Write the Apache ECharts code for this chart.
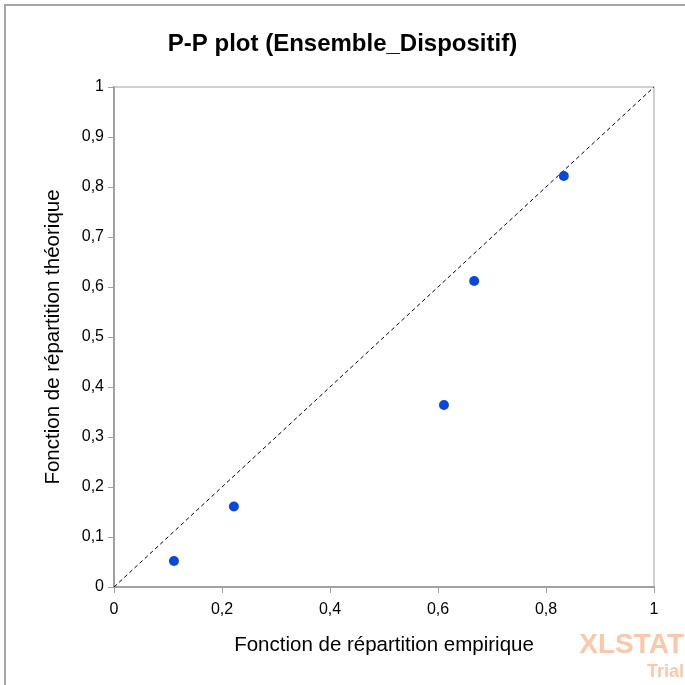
<!DOCTYPE html>
<html><head><meta charset="utf-8">
<script src="https://cdn.jsdelivr.net/npm/echarts@6/dist/echarts.min.js"></script>
<style>html,body{margin:0;padding:0;background:#fff}#c{width:685px;height:685px}</style>
</head><body><div id="c"></div>
<script>
const titleText = 'P-P plot (Ensemble_Dispositif)';
const xName = 'Fonction de répartition empirique';
const yName = 'Fonction de répartition théorique';
const empirical = [0.111, 0.222, 0.611, 0.667, 0.833];
const theoretical = [0.052, 0.161, 0.364, 0.612, 0.822];
const diagonal = [[0, 0], [1, 1]];

const fmt = v => String(Math.round(v * 10) / 10).replace('.', ',');
const chart = echarts.init(document.getElementById('c'), null, {renderer: 'canvas'});
chart.setOption({
  animation: false,
  backgroundColor: '#fff',
  title: {text: titleText, left: 'center', top: 27,
    textStyle: {fontFamily: 'Liberation Sans, Arial', fontSize: 24, fontWeight: 'bold', color: '#000'}},
  graphic: [
    {type: 'rect', shape: {x: 5, y: 5, width: 690, height: 690}, style: {fill: 'none', stroke: '#a6a6a6', lineWidth: 2}, z: -1},
    {type: 'rect', shape: {x: 114, y: 87, width: 540, height: 500}, style: {fill: 'none', stroke: '#d0d0d0', lineWidth: 2}, z: 0},
    {type: 'text', right: 1, top: 631, style: {text: 'XLSTAT', fill: '#fbc7a6', font: 'bold 28px Liberation Sans, Arial'}},
    {type: 'text', right: 1, top: 663, style: {text: 'Trial', fill: '#fbc7a6', font: 'bold 18px Liberation Sans, Arial'}}
  ],
  grid: {left: 114, right: 31, top: 87, bottom: 98, containLabel: false},
  xAxis: {type: 'value', min: 0, max: 1, interval: 0.2,
    name: xName, nameLocation: 'middle', nameGap: 48,
    nameTextStyle: {fontFamily: 'Liberation Sans, Arial', fontSize: 20.5, color: '#000'},
    axisLine: {onZero: false, lineStyle: {color: '#a0a0a0', width: 2}},
    axisTick: {show: true, length: 6, lineStyle: {color: '#a0a0a0', width: 1}},
    splitLine: {show: false},
    axisLabel: {formatter: fmt, fontFamily: 'Liberation Sans, Arial', fontSize: 16, color: '#000', margin: 15}},
  yAxis: {type: 'value', min: 0, max: 1, interval: 0.1,
    name: yName, nameLocation: 'middle', nameGap: 50,
    nameTextStyle: {fontFamily: 'Liberation Sans, Arial', fontSize: 20.5, color: '#000'},
    axisLine: {onZero: false, lineStyle: {color: '#a0a0a0', width: 2}},
    axisTick: {show: true, length: 6, lineStyle: {color: '#a0a0a0', width: 1}},
    splitLine: {show: false},
    axisLabel: {formatter: fmt, fontFamily: 'Liberation Sans, Arial', fontSize: 16, color: '#000', margin: 10}},
  series: [
    {type: 'line', data: diagonal, symbol: 'none', silent: true,
      lineStyle: {color: '#000', width: 1, type: [4, 3]}, z: 2},
    {type: 'scatter', data: empirical.map((x, i) => [x, theoretical[i]]),
      symbol: 'circle', symbolSize: 10, itemStyle: {color: '#0846e6', opacity: 1}, z: 3}
  ]
});
</script></body></html>
